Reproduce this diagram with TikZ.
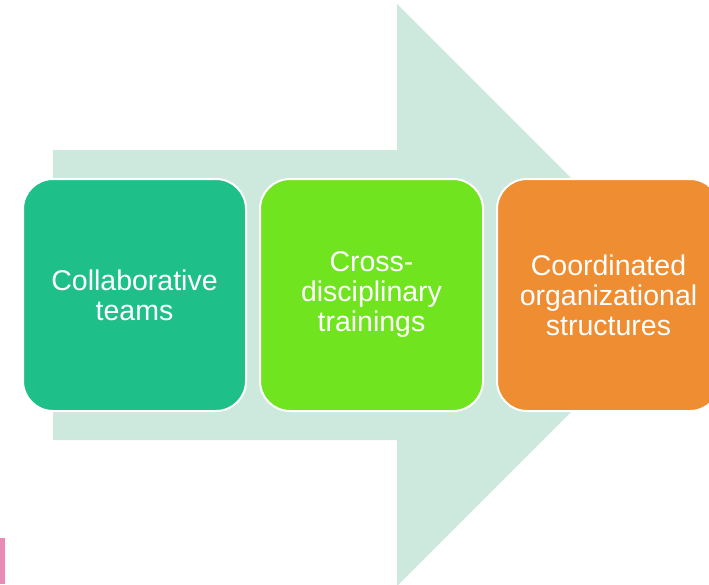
\documentclass[tikz,border=0pt]{standalone}
\usepackage{fontspec}
\setmainfont{Liberation Sans}
\usetikzlibrary{positioning}
\definecolor{arrowbg}{HTML}{CDE8DC}
\definecolor{teamgreen}{HTML}{1FBF8A}
\definecolor{trainlime}{HTML}{6FE41F}
\definecolor{structorange}{HTML}{EE8D31}
\definecolor{edgepink}{HTML}{E98BB4}
\tikzset{stagebox/.style={draw=white,line width=2pt,rounded corners=30pt,align=center,text=white,minimum width=223pt,minimum height=232pt,inner sep=0pt,font=\fontsize{28.5}{30}\selectfont},bigarrow/.style={fill=arrowbg,draw=none}}
\begin{document}
\begin{tikzpicture}[x=1pt,y=-1pt]
\useasboundingbox (0,0) rectangle (709,584);
\clip (0,0) rectangle (709,584);
\fill[bigarrow] (53,150) -- (397,150) -- (397,4) -- (688,295) -- (397,586) -- (397,440) -- (53,440) -- cycle;
\node[stagebox,fill=teamgreen] (collab) at (134.5,295) {Collaborative\\teams};
\node[stagebox,fill=trainlime,right=12pt of collab] (cross) {Cross-\\disciplinary\\trainings};
\node[stagebox,fill=structorange,right=12pt of cross] (coord) {Coordinated\\organizational\\structures};
\fill[edgepink] (0,538) rectangle (5,584);
\end{tikzpicture}
\end{document}
